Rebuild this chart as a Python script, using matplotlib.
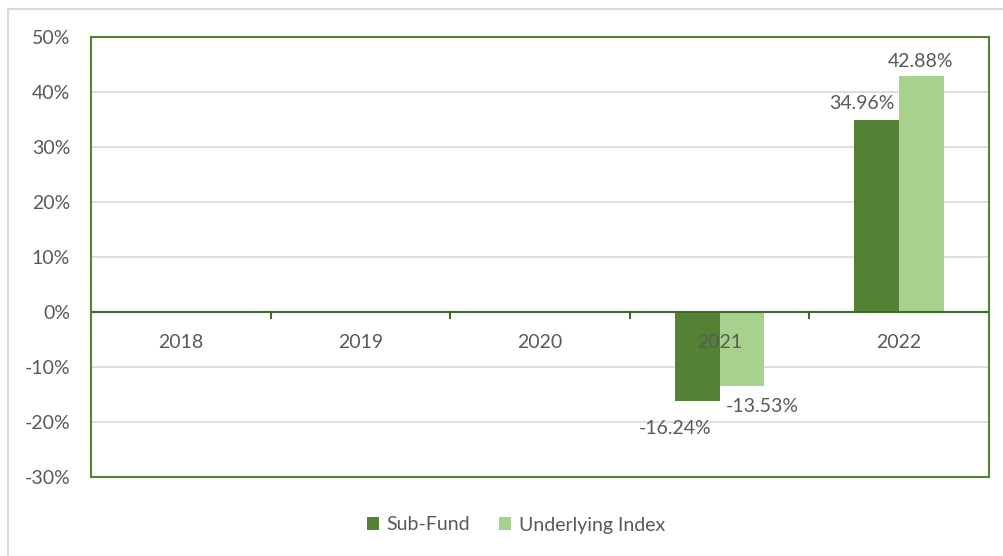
import matplotlib.pyplot as plt
import matplotlib.patches as patches
import numpy as np

years = ['2018', '2019', '2020', '2021', '2022']
sub_fund = [np.nan, np.nan, np.nan, -16.24, 34.96]
index_ret = [np.nan, np.nan, np.nan, -13.53, 42.88]
y_ticks = [-30, -20, -10, 0, 10, 20, 30, 40, 50]

dark = '#548235'
light = '#a9d18e'
text_col = '#595959'
fs = 14

plt.rcParams['font.family'] = ['Lato', 'DejaVu Sans']

fig = plt.figure(figsize=(10.04, 5.56), dpi=100)
ax = fig.add_axes([91 / 1004, 1 - 477 / 556, (989 - 91) / 1004, (477 - 37) / 556])

# outer chart frame
fig.patches.append(patches.Rectangle((8 / 1004, -0.01), 1.0, 1 - 9 / 556 + 0.01,
                                     transform=fig.transFigure, fill=False,
                                     ec='#d9d9d9', lw=1.5))

x = np.arange(len(years))
w = 0.25
ax.bar(x - w / 2, sub_fund, w, color=dark, label='Sub-Fund', zorder=3)
ax.bar(x + w / 2, index_ret, w, color=light, label='Underlying Index', zorder=3)

ax.set_xlim(-0.5, len(years) - 0.5)
ax.set_ylim(-30, 50)
ax.set_yticks(y_ticks)
ax.set_yticklabels([f'{t}%' for t in y_ticks])
ax.grid(axis='y', color='#d9d9d9', lw=1.2, zorder=0)
ax.tick_params(axis='y', length=0, labelsize=fs, labelcolor=text_col, pad=15)

# category axis at zero
ax.set_xticks([])
ax.axhline(0, color='#3f6b26', lw=1.5, zorder=4)
for b in np.arange(0.5, len(years) - 0.5, 1.0):
    ax.plot([b, b], [0, -1.1], color='#3f6b26', lw=1.5, zorder=4)
for xi, yr in zip(x, years):
    ax.text(xi, -5.6, yr, ha='center', va='center', fontsize=fs, color=text_col, zorder=5)

for s in ax.spines.values():
    s.set_color(dark)
    s.set_linewidth(1.5)

# data labels
offsets = {('s', 3): (-16, -19.5), ('i', 3): (14.5, -14.5), ('s', 4): (-10.5, 12), ('i', 4): (-1, 10.5)}
for i, v in enumerate(sub_fund):
    if not np.isnan(v):
        dx, dy = offsets[('s', i)]
        ax.annotate(f'{v:.2f}%', (x[i] - w / 2, v), xytext=(dx, dy), textcoords='offset points',
                    ha='center', va='center', fontsize=fs, color=text_col, zorder=6)
for i, v in enumerate(index_ret):
    if not np.isnan(v):
        dx, dy = offsets[('i', i)]
        ax.annotate(f'{v:.2f}%', (x[i] + w / 2, v), xytext=(dx, dy), textcoords='offset points',
                    ha='center', va='center', fontsize=fs, color=text_col, zorder=6)

fig.legend(loc='center', bbox_to_anchor=(516 / 1004, 1 - 525 / 556), ncol=2, frameon=False,
           fontsize=fs, labelcolor=text_col, handlelength=0.6, handleheight=0.6,
           handletextpad=0.4, columnspacing=1.5)

fig.savefig('out.png', dpi=100)
